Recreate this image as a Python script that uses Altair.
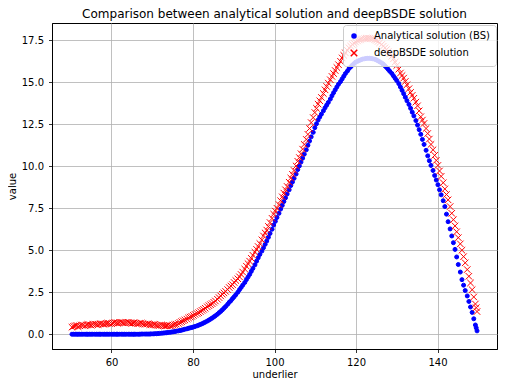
import altair as alt
import pandas as pd

# sample points (first set)
underlier_a = [50.3, 51.1, 51.8, 52.6, 53.5, 54.2, 55.0, 55.9, 56.7, 57.4, 58.3, 59.1, 60.0, 60.8, 61.5, 62.4,
               63.2, 64.1, 64.9, 65.6, 66.5, 67.3, 68.2, 69.0, 69.7, 70.6, 71.4, 72.3, 73.1, 73.8, 74.7, 75.5,
               76.4, 77.2, 78.0, 78.9, 79.7, 80.5, 81.4, 82.2, 83.0, 83.9, 84.7, 85.5, 86.4, 87.2, 88.0, 88.9,
               89.7, 90.5, 91.4, 92.2, 93.1, 93.9, 94.7, 95.6, 96.4, 97.3, 98.1, 98.9, 99.8, 100.6, 101.5, 102.3,
               103.1, 104.0, 104.8, 105.7, 106.5, 107.3, 108.2, 109.0, 109.9, 110.7, 111.5, 112.4, 113.2, 114.1,
               114.9, 115.7, 116.6, 117.4, 118.3, 119.1, 119.9, 120.8, 121.6, 122.5, 123.3, 124.1, 125.0, 125.8,
               126.7, 127.5, 128.3, 129.2, 130.0, 130.9, 131.7, 132.5, 133.4, 134.2, 135.1, 135.9, 136.7, 137.6,
               138.4, 139.3, 140.1, 140.9, 141.8, 142.6, 143.5, 144.3, 145.1, 146.0, 146.8, 147.7, 148.5, 149.3,
               149.7]

analytical_a = [0.0, 0.0, 0.0, 0.0, 0.0, 0.0, 0.0, 0.0, 0.0, 0.0, 0.0, 0.0, 0.0, 0.0, 0.0, 0.0,
                0.0, 0.0, 0.0, 0.0, 0.0, 0.01, 0.01, 0.01, 0.02, 0.03, 0.04, 0.06, 0.08, 0.1, 0.13, 0.16,
                0.2, 0.24, 0.3, 0.35, 0.4, 0.46, 0.54, 0.62, 0.72, 0.84, 0.96, 1.1, 1.28, 1.45, 1.65, 1.9,
                2.12, 2.35, 2.65, 2.92, 3.25, 3.56, 3.92, 4.35, 4.75, 5.15, 5.55, 6.0, 6.5, 6.95, 7.45, 7.9,
                8.35, 8.85, 9.28, 9.8, 10.25, 10.72, 11.25, 11.75, 12.3, 12.75, 13.1, 13.48, 13.8, 14.2,
                14.55, 14.88, 15.2, 15.52, 15.82, 16.02, 16.2, 16.3, 16.38, 16.42, 16.43, 16.4, 16.33, 16.22,
                16.08, 15.88, 15.65, 15.38, 15.1, 14.72, 14.32, 13.9, 13.45, 13.0, 12.45, 11.9, 11.3, 10.62,
                10.05, 9.45, 8.9, 8.3, 7.6, 6.7, 5.85, 5.05, 4.15, 3.25, 2.6, 1.95, 1.3, 0.55,
                0.2]

deepbsde_a = [0.42, 0.5, 0.45, 0.55, 0.5, 0.58, 0.54, 0.6, 0.57, 0.63, 0.6, 0.66, 0.63, 0.7, 0.66, 0.7,
              0.67, 0.71, 0.66, 0.68, 0.63, 0.66, 0.6, 0.62, 0.56, 0.58, 0.52, 0.54, 0.49, 0.53, 0.5, 0.58,
              0.64, 0.75, 0.85, 0.97, 1.06, 1.18, 1.28, 1.42, 1.55, 1.7, 1.82, 1.98, 2.18, 2.38, 2.55, 2.78,
              2.95, 3.2, 3.42, 3.7, 4.05, 4.35, 4.7, 5.05, 5.4, 5.85, 6.2, 6.65, 7.15, 7.5, 7.95, 8.4,
              8.8, 9.3, 9.75, 10.3, 10.75, 11.3, 11.9, 12.6, 13.2, 13.7, 14.1, 14.55, 14.95, 15.35,
              15.7, 16.05, 16.45, 16.75, 17.05, 17.25, 17.4, 17.52, 17.58, 17.63, 17.62, 17.58, 17.5, 17.35,
              17.15, 16.95, 16.7, 16.4, 16.0, 15.55, 15.25, 14.85, 14.4, 14.05, 13.6, 12.95, 12.55, 11.95,
              11.3, 10.65, 10.05, 9.4, 8.65, 8.0, 7.2, 6.45, 5.75, 5.0, 4.25, 3.45, 2.65, 1.8,
              1.35]

# sample points (second set)
underlier_b = [50.7, 51.5, 52.2, 53.0, 53.9, 54.6, 55.4, 56.3, 57.1, 57.9, 58.7, 59.5, 60.4, 61.2, 61.9, 62.8,
               63.6, 64.5, 65.3, 66.0, 66.9, 67.7, 68.6, 69.4, 70.2, 71.0, 71.8, 72.7, 73.5, 74.3, 75.1, 75.9,
               76.8, 77.6, 78.5, 79.3, 80.1, 81.0, 81.8, 82.6, 83.5, 84.3, 85.1, 86.0, 86.8, 87.6, 88.5, 89.3,
               90.1, 91.0, 91.8, 92.7, 93.5, 94.3, 95.2, 96.0, 96.9, 97.7, 98.5, 99.4, 100.2, 101.1, 101.9, 102.7,
               103.6, 104.4, 105.3, 106.1, 106.9, 107.8, 108.6, 109.5, 110.3, 111.1, 112.0, 112.8, 113.7, 114.5,
               115.3, 116.2, 117.0, 117.9, 118.7, 119.5, 120.4, 121.2, 122.1, 122.9, 123.7, 124.6, 125.4, 126.3,
               127.1, 127.9, 128.8, 129.6, 130.5, 131.3, 132.1, 133.0, 133.8, 134.7, 135.5, 136.3, 137.2, 138.0,
               138.9, 139.7, 140.5, 141.4, 142.2, 143.1, 143.9, 144.7, 145.6, 146.4, 147.3, 148.1, 148.9, 149.5]

analytical_b = [0.0, 0.0, 0.0, 0.0, 0.0, 0.0, 0.0, 0.0, 0.0, 0.0, 0.0, 0.0, 0.0, 0.0, 0.0, 0.0,
                0.0, 0.0, 0.0, 0.0, 0.0, 0.01, 0.01, 0.01, 0.02, 0.03, 0.05, 0.07, 0.09, 0.11, 0.14, 0.18,
                0.22, 0.27, 0.32, 0.38, 0.43, 0.5, 0.58, 0.67, 0.78, 0.9, 1.03, 1.19, 1.36, 1.55, 1.78, 2.0,
                2.23, 2.5, 2.78, 3.08, 3.4, 3.74, 4.13, 4.55, 4.95, 5.35, 5.77, 6.25, 6.72, 7.2, 7.67, 8.12,
                8.6, 9.06, 9.54, 10.02, 10.48, 10.98, 11.5, 12.02, 12.53, 12.93, 13.3, 13.64, 14.0, 14.38,
                14.72, 15.04, 15.36, 15.67, 15.92, 16.11, 16.25, 16.34, 16.4, 16.43, 16.42, 16.37, 16.28, 16.15,
                15.98, 15.77, 15.52, 15.24, 14.92, 14.52, 14.11, 13.68, 13.22, 12.72, 12.18, 11.6, 10.95, 10.33,
                9.75, 9.18, 8.6, 7.95, 7.15, 6.27, 5.45, 4.6, 3.7, 2.92, 2.28, 1.62, 0.92, 0.38]

deepbsde_b = [0.47, 0.52, 0.5, 0.53, 0.55, 0.56, 0.58, 0.58, 0.61, 0.6, 0.64, 0.64, 0.67, 0.68, 0.69, 0.68,
              0.7, 0.68, 0.67, 0.65, 0.65, 0.62, 0.6, 0.58, 0.57, 0.54, 0.53, 0.51, 0.51, 0.51, 0.54, 0.6,
              0.7, 0.8, 0.9, 1.02, 1.12, 1.23, 1.35, 1.48, 1.63, 1.76, 1.9, 2.08, 2.28, 2.46, 2.66, 2.87,
              3.08, 3.3, 3.56, 3.88, 4.2, 4.52, 4.88, 5.22, 5.62, 6.03, 6.42, 6.9, 7.33, 7.72, 8.18, 8.6,
              9.05, 9.52, 10.02, 10.52, 11.02, 11.6, 12.25, 12.9, 13.45, 13.9, 14.33, 14.75, 15.15, 15.52,
              15.88, 16.25, 16.6, 16.9, 17.15, 17.33, 17.46, 17.55, 17.6, 17.63, 17.6, 17.54, 17.43, 17.25,
              17.05, 16.83, 16.55, 16.2, 15.78, 15.4, 15.05, 14.62, 14.22, 13.82, 13.3, 12.75, 12.25, 11.62,
              10.98, 10.35, 9.72, 9.02, 8.32, 7.6, 6.82, 6.1, 5.38, 4.62, 3.85, 3.05, 2.22, 1.58]

series_names = ["Analytical solution (BS)", "deepBSDE solution"]
x_ticks = [60, 80, 100, 120, 140]
y_ticks = [0.0, 2.5, 5.0, 7.5, 10.0, 12.5, 15.0, 17.5]

underlier = underlier_a + underlier_b
analytical = analytical_a + analytical_b
deepbsde = deepbsde_a + deepbsde_b

df = pd.concat([
    pd.DataFrame({"underlier": underlier, "value": analytical, "series": series_names[0]}),
    pd.DataFrame({"underlier": underlier, "value": deepbsde, "series": series_names[1]}),
], ignore_index=True)
df["order"] = range(len(df))

xpath = "M-1,-1L1,1M-1,1L1,-1"
FONT = "DejaVu Sans"

legend = alt.Legend(title=None, orient="none", legendX=291, legendY=2,
                    fillColor="rgba(255,255,255,0.8)", strokeColor="#cccccc",
                    cornerRadius=3, padding=6, labelFontSize=10, labelFont=FONT,
                    labelColor="black", rowPadding=5, labelOffset=15)

chart = alt.Chart(df).mark_point(strokeWidth=1, opacity=1).encode(
    x=alt.X("underlier:Q", scale=alt.Scale(domain=[45.4, 154.6], nice=False, zero=False),
            axis=alt.Axis(values=x_ticks, format="d", title="underlier")),
    y=alt.Y("value:Q", scale=alt.Scale(domain=[-0.88, 18.53], nice=False, zero=False),
            axis=alt.Axis(values=y_ticks, format=".1f", title="value")),
    fill=alt.Fill("series:N", scale=alt.Scale(domain=series_names, range=["#0000ff", "transparent"]), legend=legend),
    stroke=alt.Stroke("series:N", scale=alt.Scale(domain=series_names, range=["#0000ff", "#ff0000"]), legend=legend),
    shape=alt.Shape("series:N", scale=alt.Scale(domain=series_names, range=["circle", xpath]), legend=legend),
    size=alt.Size("series:N", scale=alt.Scale(domain=series_names, range=[16, 42]), legend=legend),
    order=alt.Order("order:Q"),
).properties(
    width=445, height=326,
    title=alt.TitleParams("Comparison between analytical solution and deepBSDE solution",
                          font=FONT, fontSize=12, fontWeight="normal", color="black", offset=2),
    autosize=alt.AutoSizeParams(type="none"),
    padding={"left": 44, "top": 15, "right": 2, "bottom": 30},
).configure_view(
    stroke="black", strokeWidth=1
).configure_axis(
    grid=True, gridColor="#b0b0b0", gridWidth=0.8,
    domainColor="black", domainWidth=1,
    tickColor="black", tickSize=3.5, tickWidth=0.8,
    labelFont=FONT, labelFontSize=10, labelColor="black", labelPadding=5,
    titleFont=FONT, titleFontSize=10, titleFontWeight="normal", titleColor="black",
).configure_axisX(titlePadding=2).configure_axisY(titlePadding=4)

chart.save("out.html", embed_options={"renderer": "svg", "actions": False})
